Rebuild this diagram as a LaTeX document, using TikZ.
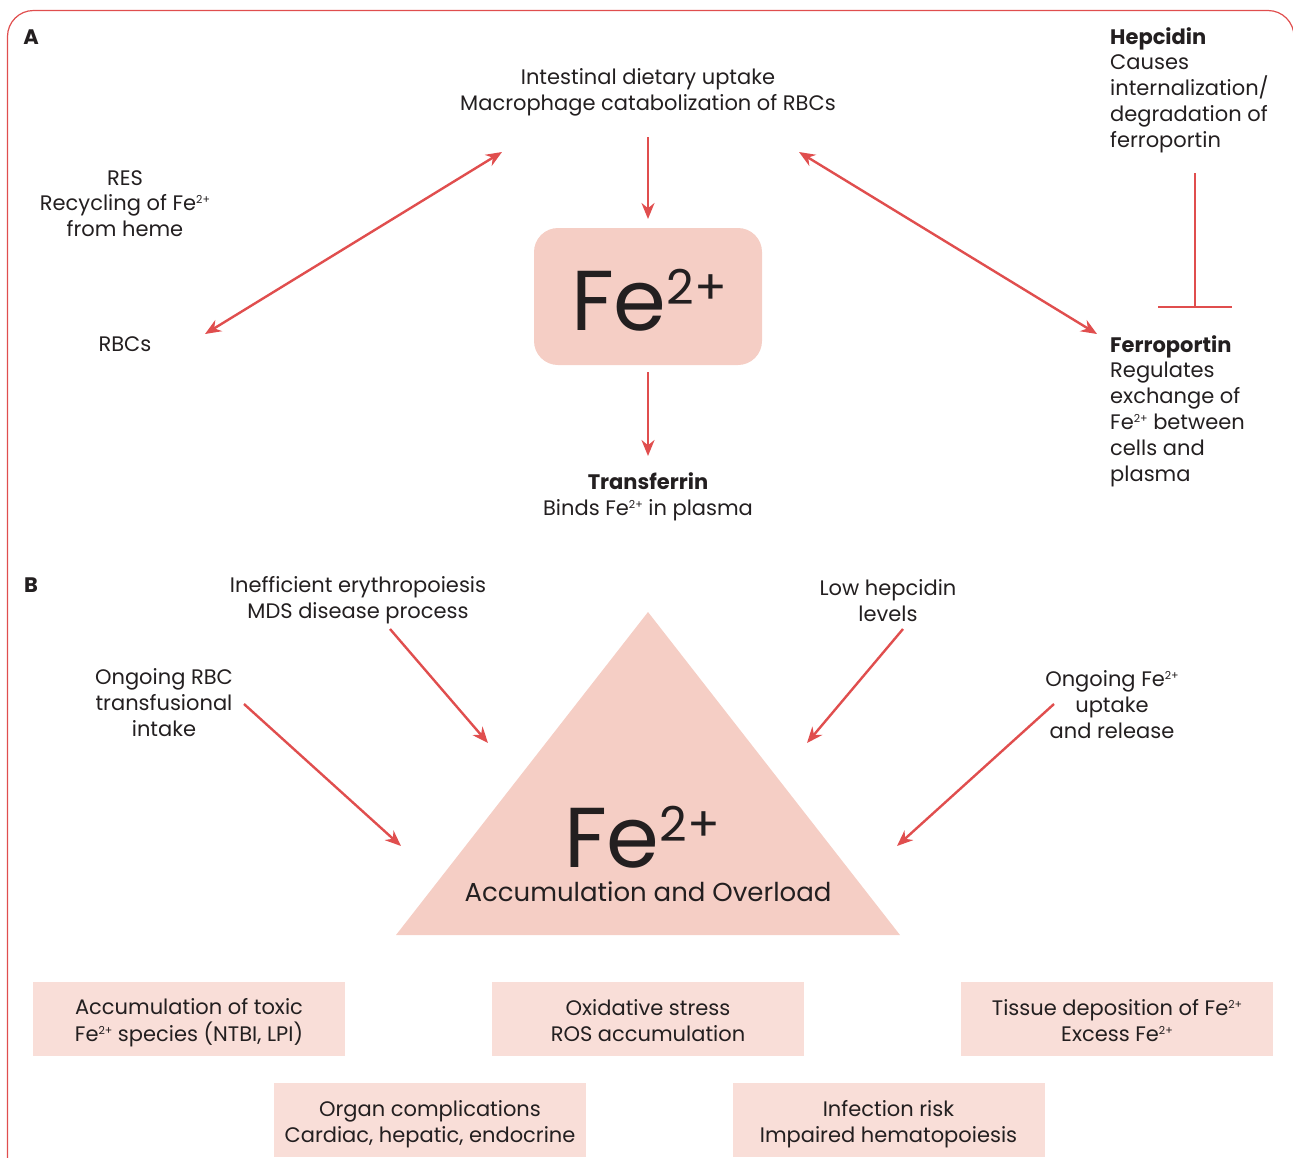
\documentclass[tikz,border=0pt]{standalone}
\usepackage{fontspec}
\setmainfont{Poppins}
\usetikzlibrary{arrows.meta}
\definecolor{ared}{RGB}{224,78,78}
\definecolor{fefill}{RGB}{245,206,197}
\definecolor{boxfill}{RGB}{249,222,216}
\definecolor{txt}{RGB}{35,31,32}
\newcommand\sFe{Fe\raisebox{7pt}{\fontsize{11}{11}\selectfont 2+}}
\newcommand\bigFe{{\fontsize{85}{85}\selectfont Fe\raisebox{26pt}{\fontsize{48}{48}\selectfont 2+}}}
\newcommand\boxtext[1]{\raisebox{-4pt}[\height][\depth]{\begin{tabular}{@{}c@{}}#1\end{tabular}}}
\begin{document}
\begin{tikzpicture}[x=1pt,y=-1pt,
  lbl/.style={text=txt,font=\fontsize{21}{25.8}\selectfont,align=center,inner sep=0pt,yshift=-2.5pt},
  lbll/.style={text=txt,font=\fontsize{21}{25.8}\selectfont,align=left,inner sep=0pt,anchor=west,yshift=-2.5pt},
  arr/.style={draw=ared,line width=2.4pt,-{Stealth[length=16pt,width=13pt]}},
  darr/.style={draw=ared,line width=2.4pt,{Stealth[length=16pt,width=13pt]}-{Stealth[length=16pt,width=13pt]}},
  effbox/.style={fill=boxfill,minimum width=312pt,minimum height=74pt,inner sep=0pt,align=center,text=txt,font=\fontsize{21}{25.8}\selectfont},
  panel/.style={text=txt,font=\fontsize{21}{21}\selectfont\bfseries,inner sep=0pt}
]
\useasboundingbox (0,0) rectangle (1293,1157);
\begin{scope}
\clip (0,0) rectangle (1293,1157);
\draw[ared,line width=1.2pt,rounded corners=26pt] (7.5,10.5) rectangle (1294,1250);
\end{scope}

% Panel A
\node[panel] (pa) at (31,37) {A};
\node[lbl] (src) at (648,90) {Intestinal dietary uptake\\Macrophage catabolization of RBCs};
\node[fill=fefill,rounded corners=24pt,minimum width=228pt,minimum height=137pt,inner sep=0pt] (fe) at (648,296.5) {};
\node[anchor=base,text=txt,inner sep=0pt,text depth=0pt] (fetxt) at (649,330) {\bigFe};
\node[lbl] (tf) at (648,494) {\textbf{Transferrin}\\Binds \sFe{} in plasma};
\node[lbl] (res) at (125,201) {RES\\Recycling of \sFe\\from heme};
\node[lbl] (rbc) at (125,342) {RBCs};
\node[lbll] (hep) at (1110,87.5) {\textbf{Hepcidin}\\Causes\\internalization/\\degradation of\\ferroportin};
\node[lbll] (fpn) at (1110,408.5) {\textbf{Ferroportin}\\Regulates\\exchange of\\\sFe{} between\\cells and\\plasma};

\coordinate (a1s) at (648,137); \coordinate (a1e) at (648,219);
\coordinate (a2s) at (648,372); \coordinate (a2e) at (648,456);
\coordinate (l1) at (205,334); \coordinate (l2) at (502,152);
\coordinate (r1) at (799,152); \coordinate (r2) at (1097,334);
\coordinate (hs) at (1195,173); \coordinate (hb) at (1195,307);
\coordinate (hbl) at (1158,307); \coordinate (hbr) at (1232,307);
\draw[arr] (a1s) -- (a1e);
\draw[arr] (a2s) -- (a2e);
\draw[darr] (l1) -- (l2);
\draw[darr] (r1) -- (r2);
\draw[ared,line width=2.4pt] (hs) -- (hb);
\draw[ared,line width=2.4pt] (hbl) -- (hbr);

% Panel B
\node[panel] (pb) at (31,585) {B};
\fill[fefill] (648,612) coordinate (apex) -- (900,935) coordinate (br) -- (396,935) coordinate (bl) -- cycle;
\node[anchor=base,text=txt,inner sep=0pt,text depth=0pt] (fe2) at (642,867) {\bigFe};
\node[text=txt,inner sep=0pt,font=\fontsize{26}{26}\selectfont,anchor=base,text height=17pt] (acc) at (648,901) {Accumulation and Overload};

\node[lbl] (ie) at (358,598) {Inefficient erythropoiesis\\MDS disease process};
\node[lbl] (lh) at (888,598) {Low hepcidin\\levels};
\node[lbl] (or) at (164,700) {Ongoing RBC\\transfusional\\intake};
\node[lbl] (of) at (1112,702) {Ongoing \sFe\\uptake\\and release};

\coordinate (b1s) at (390,629); \coordinate (b1e) at (488,743);
\coordinate (b2s) at (903,629); \coordinate (b2e) at (807,743);
\coordinate (b3s) at (244,704); \coordinate (b3e) at (401,846);
\coordinate (b4s) at (1054,704); \coordinate (b4e) at (897,846);
\draw[arr] (b1s) -- (b1e);
\draw[arr] (b2s) -- (b2e);
\draw[arr] (b3s) -- (b3e);
\draw[arr] (b4s) -- (b4e);

\node[effbox] (e1) at (189,1019) {\boxtext{Accumulation of toxic\\\sFe{} species (NTBI, LPI)}};
\node[effbox] (e2) at (648,1019) {\boxtext{Oxidative stress\\ROS accumulation}};
\node[effbox] (e3) at (1117,1019) {\boxtext{Tissue deposition of \sFe\\Excess \sFe}};
\node[effbox] (e4) at (430,1120) {\boxtext{Organ complications\\Cardiac, hepatic, endocrine}};
\node[effbox] (e5) at (888.5,1120) {\boxtext{Infection risk\\Impaired hematopoiesis}};
\end{tikzpicture}
\end{document}
